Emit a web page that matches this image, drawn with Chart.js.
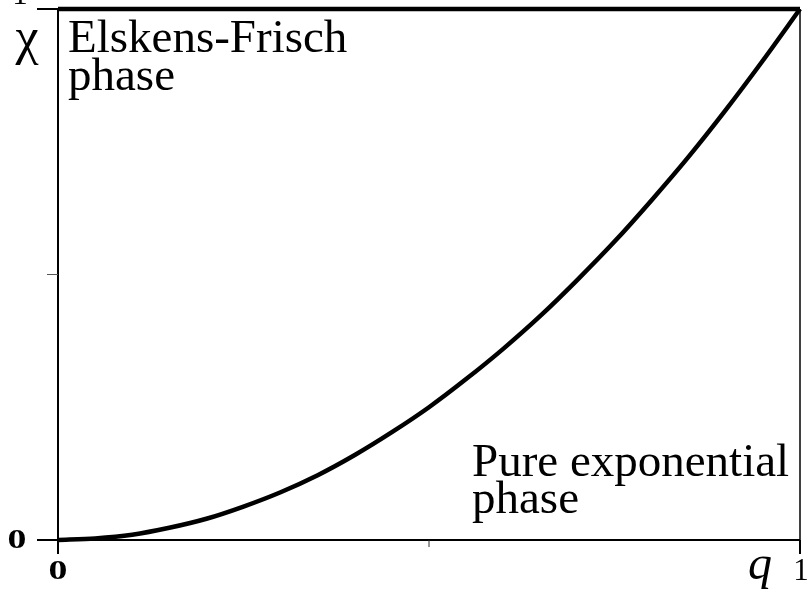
<!DOCTYPE html>
<html><head><meta charset="utf-8">
<script src="https://cdn.jsdelivr.net/npm/chart.js@4/dist/chart.umd.min.js"></script>
<style>html,body{margin:0;padding:0;background:#fff}#wrap{width:809px;height:594px}</style>
</head><body><div id="wrap"><canvas id="c" width="809" height="594"></canvas></div>
<script>
// ---- data ----
const qValues   = [0, 0.05, 0.1, 0.15, 0.2, 0.25, 0.3, 0.35, 0.4, 0.45, 0.5, 0.55, 0.6, 0.65, 0.7, 0.75, 0.8, 0.85, 0.9, 0.95, 1];
const chiCurve  = [0, 0.003, 0.010, 0.023, 0.040, 0.063, 0.090, 0.122, 0.160, 0.203, 0.250, 0.303, 0.360, 0.422, 0.490, 0.562, 0.640, 0.722, 0.810, 0.903, 1];
const qUpper    = [0, 1];
const chiUpper  = [1, 1];
const xTickValues = [0, 0.5, 1];
const xTickLabels = ['0', '', '1'];
const yTickValues = [0, 0.5, 1];
const yTickLabels = ['0', '', '1'];
const regionLabels = [
  { lines: ['Elskens-Frisch', 'phase'] },
  { lines: ['Pure exponential', 'phase'] }
];
const xTitle = 'q';
const yTitle = 'χ';

const toPts = (xs, ys) => xs.map((x, i) => ({ x, y: ys[i] }));
const SERIF = '"Liberation Serif", "DejaVu Serif", serif';

function drawZero(ctx, t, cx, cy) {
  ctx.save();
  ctx.translate(cx, cy);
  ctx.scale(1.35, 1);
  ctx.font = 'bold 28px ' + SERIF;
  ctx.textAlign = 'center'; ctx.textBaseline = 'middle';
  ctx.fillText(t, 0, 0);
  ctx.restore();
}

const axesPlugin = {
  id: 'axesPlugin',
  beforeDatasetsDraw(chart) {
    const ctx = chart.ctx;
    const xs = chart.scales.x, ys = chart.scales.y;
    const x0 = xs.getPixelForValue(0), x1 = xs.getPixelForValue(1);
    const y0 = ys.getPixelForValue(0), y1 = ys.getPixelForValue(1);
    ctx.save();
    ctx.strokeStyle = '#000';
    ctx.lineWidth = 2;
    ctx.beginPath(); ctx.moveTo(x0, y1); ctx.lineTo(x0, y0); ctx.stroke();
    ctx.beginPath(); ctx.moveTo(x0, y0); ctx.lineTo(x1, y0); ctx.stroke();
    ctx.lineWidth = 1.5;
    ctx.beginPath(); ctx.moveTo(x1, y1); ctx.lineTo(x1, y0); ctx.stroke();
    xTickValues.forEach((v, i) => {
      const px = xs.getPixelForValue(v);
      const major = xTickLabels[i] !== '';
      ctx.lineWidth = major ? 2 : 1;
      ctx.strokeStyle = major ? '#000' : '#333';
      ctx.beginPath(); ctx.moveTo(px, y0); ctx.lineTo(px, y0 + (major ? 14 : 7)); ctx.stroke();
    });
    yTickValues.forEach((v, i) => {
      const py = ys.getPixelForValue(v);
      const major = yTickLabels[i] !== '';
      ctx.lineWidth = major ? 2 : 1;
      ctx.strokeStyle = major ? '#000' : '#555';
      ctx.beginPath(); ctx.moveTo(x0, py); ctx.lineTo(x0 - (major ? 21 : 11), py); ctx.stroke();
    });
    ctx.restore();
  },
  afterDraw(chart) {
    const ctx = chart.ctx;
    const xs = chart.scales.x, ys = chart.scales.y;
    const ca = chart.chartArea;
    ctx.save();
    ctx.fillStyle = '#000';
    ctx.textAlign = 'center'; ctx.textBaseline = 'middle';
    xTickValues.forEach((v, i) => {
      const t = xTickLabels[i]; if (!t) return;
      const px = xs.getPixelForValue(v);
      if (t === '0') drawZero(ctx, t, px, ca.bottom + 32);
      else { ctx.font = '31px ' + SERIF; ctx.fillText(t, px + 1, ca.bottom + 32); }
    });
    yTickValues.forEach((v, i) => {
      const t = yTickLabels[i]; if (!t) return;
      const py = ys.getPixelForValue(v);
      if (t === '0') drawZero(ctx, t, ca.left - 41, py + 1);
      else { ctx.font = '31px ' + SERIF; ctx.fillText(t, ca.left - 38, py - 13); }
    });
    ctx.font = '52px ' + SERIF;
    ctx.textAlign = 'center'; ctx.textBaseline = 'alphabetic';
    ctx.fillText(yTitle, ca.left - 31, ca.top + 45);
    ctx.font = 'italic 48px ' + SERIF;
    ctx.fillText(xTitle, ca.right - 40, ca.bottom + 39);
    ctx.font = '47px ' + SERIF;
    ctx.textAlign = 'left';
    regionLabels[0].lines.forEach((l, k) => ctx.fillText(l, ca.left + 10, ca.top + 43 + k * 38));
    regionLabels[1].lines.forEach((l, k) => ctx.fillText(l, ca.left + 414, ca.bottom - 64 + k * 37));
    ctx.restore();
  }
};

new Chart(document.getElementById('c'), {
  type: 'line',
  data: {
    datasets: [
      { data: toPts(qUpper, chiUpper), borderColor: '#000', borderWidth: 4.5, pointRadius: 0, fill: false, clip: false },
      { data: toPts(qValues, chiCurve), borderColor: '#000', borderWidth: 4.5, pointRadius: 0, fill: false, tension: 0.3, clip: false }
    ]
  },
  options: {
    responsive: false,
    animation: false,
    devicePixelRatio: 1,
    layout: { padding: { left: 58, right: 9, top: 9, bottom: 54 } },
    plugins: { legend: { display: false }, tooltip: { enabled: false } },
    scales: {
      x: { type: 'linear', min: 0, max: 1, display: false },
      y: { type: 'linear', min: 0, max: 1, display: false }
    }
  },
  plugins: [axesPlugin]
});
</script>
</body></html>
